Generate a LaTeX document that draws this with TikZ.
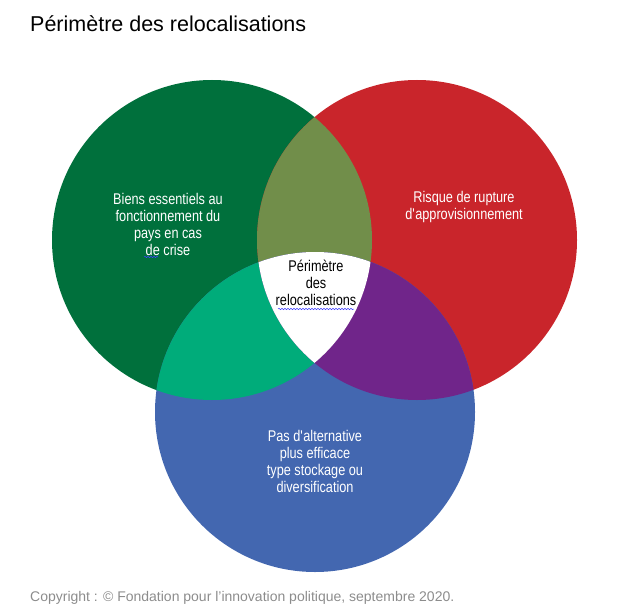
\documentclass[tikz,border=0pt]{standalone}
\usepackage{fontspec}
\setmainfont{Liberation Sans}
\newfontfamily\etroite{Liberation Sans}[FakeStretch=0.82]
\usetikzlibrary{positioning,decorations.pathmorphing}
\definecolor{vertfonce}{RGB}{0,112,60}
\definecolor{rougevif}{RGB}{201,37,43}
\definecolor{bleuvenn}{RGB}{67,103,176}
\definecolor{vertolive}{RGB}{113,142,74}
\definecolor{sarcelle}{RGB}{0,172,122}
\definecolor{pourpre}{RGB}{112,37,138}
\definecolor{grispied}{RGB}{140,140,140}

\begin{document}
\begin{tikzpicture}[x=1pt,y=-1pt,
  etiquette/.style = {text=white, align=center, inner sep=0pt,
                      font=\etroite\fontsize{15.5}{17}\selectfont},
  ondule/.style = {draw=blue!75, line width=0.5pt, decorate,
                   decoration={snake, amplitude=0.7pt, segment length=3pt}}]
\useasboundingbox (0,0) rectangle (618,615);
\coordinate (biens) at (212,240);
\coordinate (risque) at (417,240);
\coordinate (alternative) at (315,412);
% les trois cercles
\fill[vertfonce] (biens) circle[radius=160];
\fill[rougevif] (risque) circle[radius=160];
\fill[bleuvenn] (alternative) circle[radius=160];
% intersections deux a deux
\begin{scope}
  \clip (biens) circle[radius=160];
  \fill[vertolive] (risque) circle[radius=160];
  \fill[sarcelle] (alternative) circle[radius=160];
\end{scope}
\begin{scope}
  \clip (risque) circle[radius=160];
  \fill[pourpre] (alternative) circle[radius=160];
\end{scope}
\begin{scope}
  \clip (biens) circle[radius=160];
  \clip (risque) circle[radius=160];
  \fill[white] (alternative) circle[radius=160];
\end{scope}
% textes
\node[anchor=west, inner sep=0pt, font=\fontsize{21.5}{24}\selectfont] (titre) at (30,24) {Périmètre des relocalisations};
\node[etiquette] (txtbiens) at (168,224) {Biens essentiels au\\fonctionnement du\\pays en cas\\de crise};
\node[etiquette] (txtrisque) at (464,207) {Risque de rupture\\d\textquotesingle approvisionnement};
\node[etiquette, text=black] (txtperimetre) at (316,283) {Périmètre\\des\\relocalisations};
\node[etiquette] (txtalternative) at (315,461) {Pas d\textquotesingle alternative\\plus efficace\\type stockage ou\\diversification};
\node[anchor=west, inner sep=0pt, text=grispied, font=\fontsize{14}{16}\selectfont] (copyright) at (30,598) {Copyright : © Fondation pour l’innovation politique, septembre 2020.};
% soulignements
\draw[ondule] (144,257) -- (158,257);
\draw[ondule] (278,309) -- (354,309);
\end{tikzpicture}
\end{document}
